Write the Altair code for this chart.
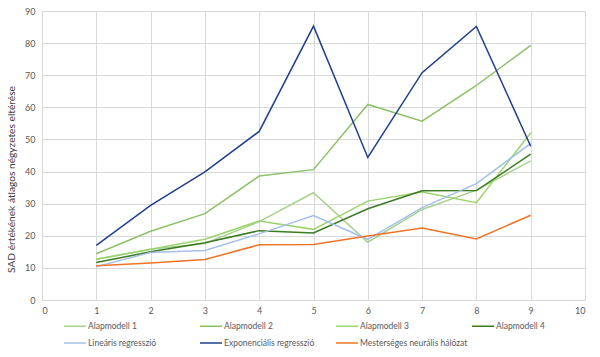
import altair as alt
import pandas as pd

x_vals = [1, 2, 3, 4, 5, 6, 7, 8, 9]
series_names = ["Alapmodell 1", "Alapmodell 2", "Alapmodell 3", "Alapmodell 4",
                "Lineáris regresszió", "Exponenciális regresszió",
                "Mesterséges neurális hálózat"]
alap1 = [12.7, 15.8, 17.6, 24.4, 33.4, 18.0, 28.2, 34.2, 43.3]
alap2 = [14.4, 21.4, 26.9, 38.6, 40.6, 60.9, 55.7, 66.8, 79.3]
alap3 = [12.7, 15.8, 18.9, 24.6, 22.0, 30.8, 33.6, 30.3, 52.1]
alap4 = [11.7, 15.0, 17.8, 21.6, 20.9, 28.4, 34.0, 34.1, 45.4]
linear = [10.4, 14.8, 15.4, 20.6, 26.3, 18.9, 28.75, 36.25, 48.75]
expo = [17.0, 29.5, 39.9, 52.5, 85.3, 44.4, 70.8, 85.2, 47.9]
neural = [10.7, 11.5, 12.6, 17.2, 17.3, 19.9, 22.4, 19.0, 26.4]
colors = ["#A9D18E", "#8CC168", "#9BD46E", "#3A7A22", "#A4BFEA", "#1F3F8C", "#F07427"]

all_series = [alap1, alap2, alap3, alap4, linear, expo, neural]
rows = []
for name, vals in zip(series_names, all_series):
    for xv, yv in zip(x_vals, vals):
        rows.append({"x": xv, "y": yv, "series": name})
df = pd.DataFrame(rows)

font = "Lato"
chart = alt.Chart(df).mark_line(strokeWidth=1.5).encode(
    x=alt.X("x:Q", scale=alt.Scale(domain=[0, 10], nice=False),
            axis=alt.Axis(title=None, values=list(range(0, 11)),
                          labelFontSize=9, labelColor="#595959", labelFont=font,
                          labelOverlap=False,
                          grid=True, gridColor="#D9D9D9", gridWidth=1,
                          domainColor="#D9D9D9", domainWidth=1, ticks=False,
                          labelPadding=6)),
    y=alt.Y("y:Q", scale=alt.Scale(domain=[0, 90], nice=False),
            axis=alt.Axis(title="SAD értékének átlagos négyzetes eltérése",
                          values=list(range(0, 91, 10)),
                          labelFontSize=9, labelColor="#595959", labelFont=font,
                          labelOverlap=False,
                          titleFont=font, titleFontSize=10.2, titleFontWeight="normal",
                          titleColor="#404040", titlePadding=8, titleY=168,
                          titleAlign="center", titleAngle=270,
                          grid=True, gridColor="#D9D9D9", gridWidth=1,
                          domain=False, ticks=False, labelPadding=7)),
    color=alt.Color("series:N", sort=series_names,
                    scale=alt.Scale(domain=series_names, range=colors),
                    legend=alt.Legend(title=None, orient="none", legendX=21, legendY=303,
                                      columns=4, direction="horizontal",
                                      symbolType="stroke", symbolSize=484,
                                      symbolStrokeWidth=1.5, gridAlign="all",
                                      columnPadding=1, rowPadding=-5,
                                      labelFont=font, labelFontSize=8.5,
                                      labelColor="#595959", labelOffset=1,
                                      labelLimit=200)),
    order=alt.Order("x:Q"),
).properties(
    width=543, height=289,
    autosize=alt.AutoSizeParams(type="none"),
    padding={"left": 42, "top": 11, "right": 15, "bottom": 57},
).configure_view(stroke=None).configure(background="white")

chart.save("out.html", embed_options={"renderer": "svg", "actions": False})
